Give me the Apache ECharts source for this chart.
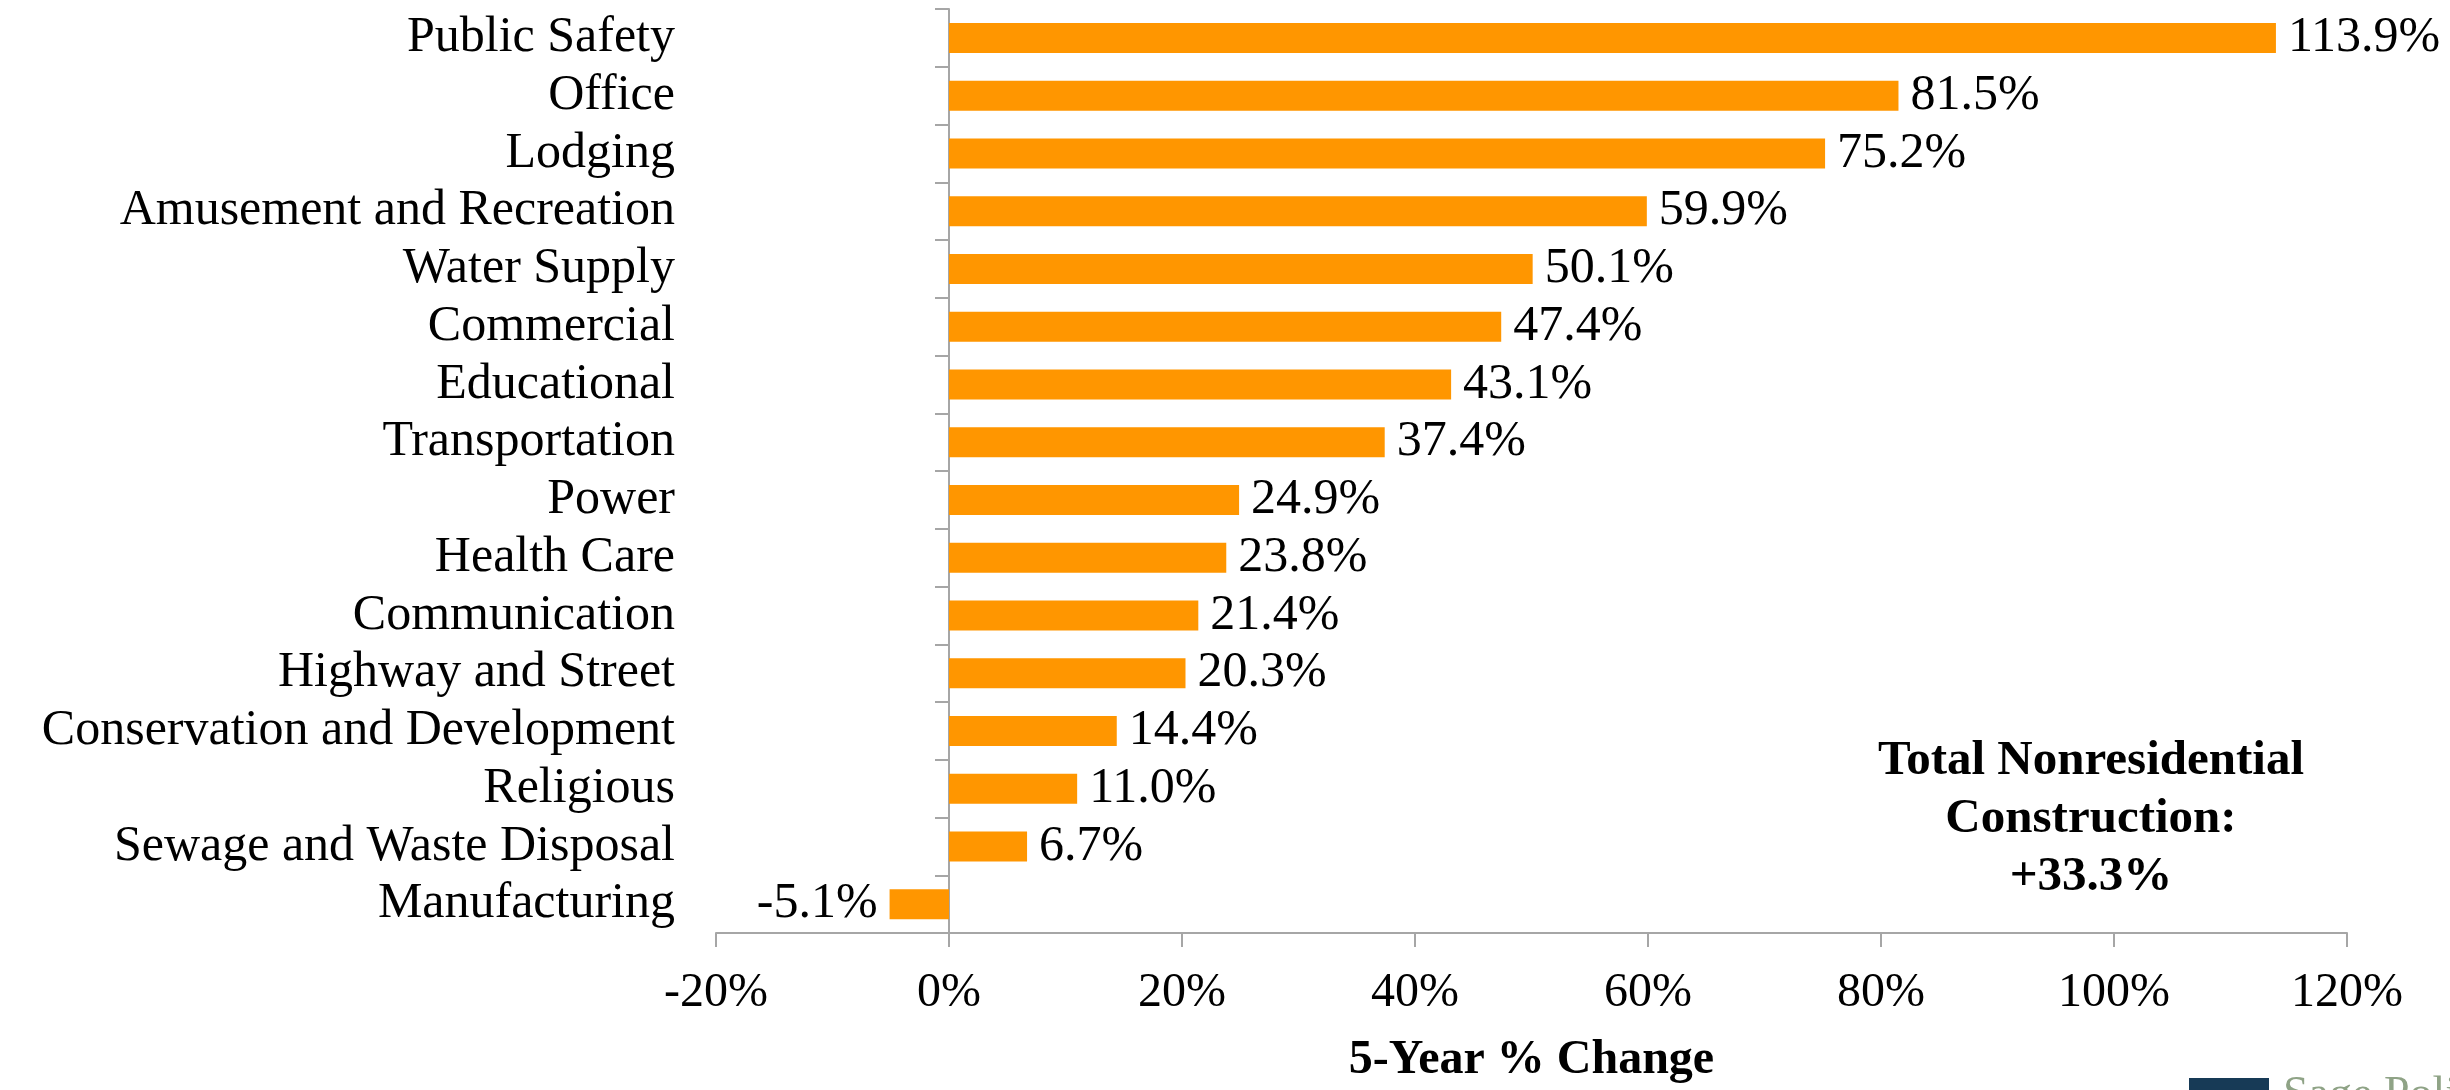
<!DOCTYPE html>
<html>
<head>
<meta charset="utf-8">
<title>Nonresidential Construction: 5-Year % Change</title>
<script src="https://cdn.jsdelivr.net/npm/echarts@6/dist/echarts.min.js"></script>
<style>
  html, body { margin: 0; padding: 0; background: #ffffff; }
  #chart { width: 2450px; height: 1090px; }
</style>
</head>
<body>
<div id="chart"></div>
<script>
// Construction segments, top to bottom
const categories = [
  'Public Safety', 'Office', 'Lodging', 'Amusement and Recreation', 'Water Supply',
  'Commercial', 'Educational', 'Transportation', 'Power', 'Health Care',
  'Communication', 'Highway and Street', 'Conservation and Development', 'Religious',
  'Sewage and Waste Disposal', 'Manufacturing'
];
// 5-year percent change per segment
const changes = [113.9, 81.5, 75.2, 59.9, 50.1, 47.4, 43.1, 37.4, 24.9, 23.8, 21.4, 20.3, 14.4, 11.0, 6.7, -5.1];
// Value axis range and step (percent)
const xTicks = { min: -20, max: 120, step: 20 };
const totalLabel = ['Total Nonresidential', 'Construction:', '+33.3%'];

const FONT = '"Liberation Serif", "DejaVu Serif", serif';
const AXIS_GRAY = '#a6a6a6';
const BAR_ORANGE = '#ff9600';

const chart = echarts.init(document.getElementById('chart'), null, { renderer: 'canvas' });

const barData = changes.map(v => ({
  value: v,
  label: { position: v < 0 ? 'left' : 'right' }
}));

chart.setOption({
  backgroundColor: '#ffffff',
  animation: false,
  grid: { left: 716, right: 103, top: 9, bottom: 153, containLabel: false },
  xAxis: {
    type: 'value',
    min: xTicks.min,
    max: xTicks.max,
    interval: xTicks.step,
    splitLine: { show: false },
    axisLine: { show: true, lineStyle: { color: AXIS_GRAY, width: 2 } },
    axisTick: { show: true, length: 14, lineStyle: { color: AXIS_GRAY, width: 2 } },
    axisLabel: {
      margin: 36,
      color: '#000',
      fontFamily: FONT,
      fontSize: 48,
      formatter: v => v + '%'
    },
    name: '5-Year % Change',
    nameLocation: 'middle',
    nameGap: 104,
    nameTextStyle: { color: '#000', fontFamily: FONT, fontSize: 48, fontWeight: 'bold' }
  },
  yAxis: [
    {
      // category names on the left edge of the plot
      type: 'category',
      data: categories,
      inverse: true,
      position: 'left',
      axisLine: { show: false, onZero: false },
      axisTick: { show: false },
      axisLabel: { interval: 0, margin: 41, color: '#000', fontFamily: FONT, fontSize: 50 }
    },
    {
      // the zero line with its ticks
      type: 'category',
      data: categories,
      inverse: true,
      position: 'left',
      axisLine: { show: true, onZero: true, onZeroAxisIndex: 0, lineStyle: { color: AXIS_GRAY, width: 2 } },
      axisTick: { show: true, interval: 0, length: 14, lineStyle: { color: AXIS_GRAY, width: 2 } },
      axisLabel: { show: false }
    }
  ],
  series: [{
    type: 'bar',
    yAxisIndex: 0,
    data: barData,
    barWidth: 30,
    itemStyle: { color: BAR_ORANGE },
    label: {
      show: true,
      distance: 12,
      color: '#000',
      fontFamily: FONT,
      fontSize: 50,
      formatter: p => p.value.toFixed(1) + '%'
    }
  }],
  graphic: [
    {
      type: 'text',
      x: 2091,
      y: 819,
      style: {
        text: totalLabel.join('\n'),
        textAlign: 'center',
        textVerticalAlign: 'middle',
        lineHeight: 58,
        fill: '#000',
        font: 'bold 49px ' + FONT
      }
    },
    {
      type: 'rect',
      shape: { x: 2189, y: 1078, width: 80, height: 20 },
      style: { fill: '#173a56' }
    },
    {
      type: 'text',
      x: 2283,
      y: 1073,
      style: {
        text: 'Sage Policy Group',
        textAlign: 'left',
        textVerticalAlign: 'top',
        fill: '#8fa386',
        font: '46px ' + FONT
      }
    }
  ]
});
</script>
</body>
</html>
